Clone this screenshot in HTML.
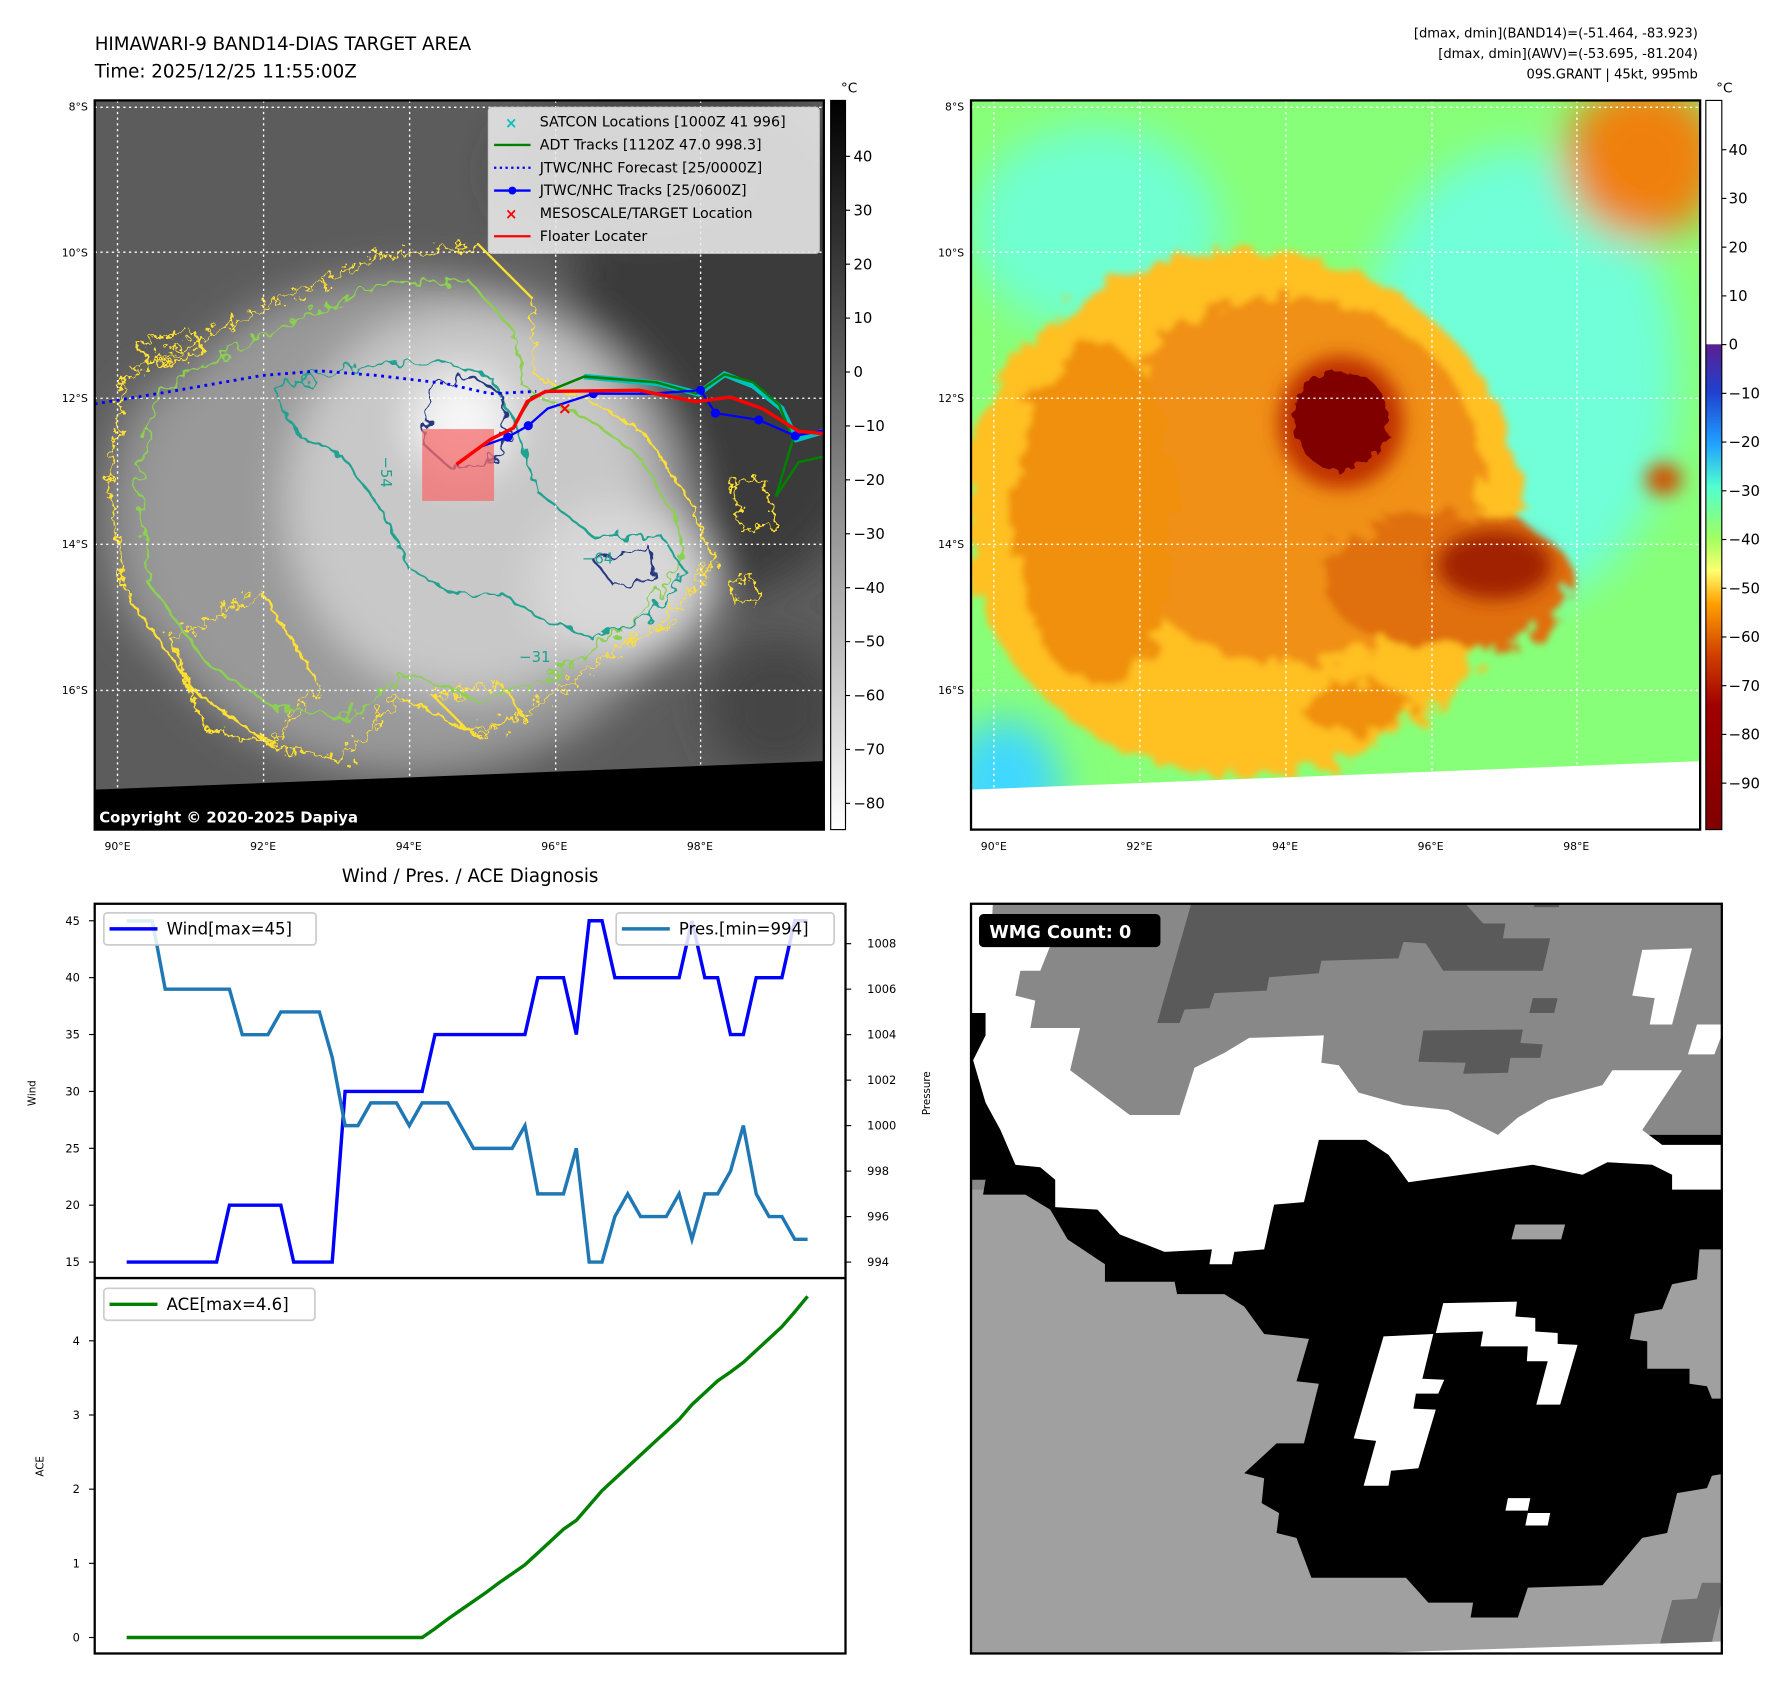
<!DOCTYPE html>
<html><head><meta charset="utf-8">
<style>
html,body{margin:0;padding:0;background:#fff;}
svg{display:block;font-family:"DejaVu Sans","Liberation Sans",sans-serif;}
</style></head>
<body>
<svg id="fig" width="1788" height="1690" viewBox="0 0 1567 1481" preserveAspectRatio="none" xmlns="http://www.w3.org/2000/svg">
<defs>
  <filter id="wig" x="-10%" y="-10%" width="120%" height="120%">
    <feTurbulence type="fractalNoise" baseFrequency="0.09" numOctaves="2" seed="3"/>
    <feDisplacementMap in="SourceGraphic" scale="18"/>
  </filter>
  <filter id="wig2" x="-10%" y="-10%" width="120%" height="120%">
    <feTurbulence type="fractalNoise" baseFrequency="0.12" numOctaves="3" seed="7"/>
    <feDisplacementMap in="SourceGraphic" scale="22"/>
  </filter>
  <filter id="tex" x="-5%" y="-5%" width="110%" height="110%">
    <feTurbulence type="fractalNoise" baseFrequency="0.05" numOctaves="3" seed="11"/>
    <feDisplacementMap in="SourceGraphic" scale="40"/>
    <feGaussianBlur stdDeviation="3"/>
  </filter>
  <filter id="blur" x="-20%" y="-20%" width="140%" height="140%"><feGaussianBlur stdDeviation="18"/></filter>
  <filter id="blur2" x="-20%" y="-20%" width="140%" height="140%"><feGaussianBlur stdDeviation="8"/></filter>
  <clipPath id="clipL"><rect x="83" y="88" width="639" height="639"/></clipPath>
  <clipPath id="clipR"><rect x="851" y="88" width="639" height="639"/></clipPath>
  <clipPath id="clipW"><rect x="851" y="792" width="658" height="657"/></clipPath>
  <linearGradient id="cbL" x1="0" y1="0" x2="0" y2="1">
    <stop offset="0" stop-color="#000"/><stop offset="1" stop-color="#fff"/>
  </linearGradient>
  <linearGradient id="cbR" x1="0" y1="0" x2="0" y2="1">
    <stop offset="0" stop-color="#fff"/><stop offset="0.334" stop-color="#fff"/>
    <stop offset="0.335" stop-color="#5a2090"/><stop offset="0.40" stop-color="#2040d0"/>
    <stop offset="0.47" stop-color="#20a0ff"/><stop offset="0.53" stop-color="#50ffd0"/>
    <stop offset="0.60" stop-color="#a0ff60"/><stop offset="0.645" stop-color="#ffff70"/>
    <stop offset="0.69" stop-color="#ffa000"/><stop offset="0.76" stop-color="#d04000"/>
    <stop offset="0.83" stop-color="#a00000"/><stop offset="1" stop-color="#800000"/>
  </linearGradient>
</defs>

<text x="83" y="44" font-size="16">HIMAWARI-9 BAND14-DIAS TARGET AREA</text>
<text x="83" y="68" font-size="16">Time: 2025/12/25 11:55:00Z</text>
<text x="1488" y="33" font-size="11.5" text-anchor="end">[dmax, dmin](BAND14)=(-51.464, -83.923)</text>
<text x="1488" y="51" font-size="11.5" text-anchor="end">[dmax, dmin](AWV)=(-53.695, -81.204)</text>
<text x="1488" y="69" font-size="11.5" text-anchor="end">09S.GRANT | 45kt, 995mb</text>

<!-- LEFT MAP -->
<g id="leftMap" clip-path="url(#clipL)">
  <rect x="83" y="88" width="639" height="639" fill="#5c5c5c"/>
  <g filter="url(#blur)">
    <ellipse cx="640" cy="300" rx="140" ry="220" fill="#3a3a3a"/>
    <ellipse cx="560" cy="150" rx="120" ry="70" fill="#404040"/>
    <ellipse cx="680" cy="620" rx="60" ry="60" fill="#444"/>
    <ellipse cx="150" cy="450" rx="60" ry="120" fill="#888"/>
    <ellipse cx="360" cy="460" rx="250" ry="220" fill="#999"/>
    <ellipse cx="410" cy="440" rx="160" ry="170" fill="#c8c8c8"/>
    <ellipse cx="545" cy="510" rx="80" ry="70" fill="#d8d8d8"/>
    <ellipse cx="405" cy="370" rx="45" ry="45" fill="#f6f6f6"/>
  </g>
  <g fill="none" stroke-width="2">
    <path filter="url(#wig2)" stroke="#ffe030" d="M110,330 L230,270 L330,225 L420,215 L465,260 L470,330 L525,355 L565,380 L605,440 L625,490 L585,545 L545,565 L520,585 L470,620 L420,645 L350,610 L300,665 L240,655 L170,605 L110,520 L95,420 Z"/>
    <path filter="url(#wig2)" stroke="#ffe030" d="M150,560 L230,520 L280,600 L240,650 L180,640 Z"/>
    <path filter="url(#wig2)" stroke="#ffe030" d="M380,610 L440,600 L460,630 L410,640 Z"/>
    <path filter="url(#wig2)" stroke="#ffe030" d="M120,300 L170,290 L180,310 L130,320 Z"/>
    <path filter="url(#wig2)" stroke="#ffe030" d="M640,420 L670,420 L680,460 L650,465 Z"/>
    <path filter="url(#wig2)" stroke="#ffe030" d="M640,510 L660,505 L665,525 L645,530 Z"/>
    <path filter="url(#wig)" stroke="#8cd050" d="M140,340 L240,290 L330,250 L410,245 L450,290 L460,340 L520,370 L560,400 L590,450 L600,490 L560,540 L520,570 L470,600 L420,615 L360,590 L300,630 L240,620 L180,580 L130,510 L120,420 Z"/>
    <path filter="url(#wig)" stroke="#20a090" d="M240,340 L320,320 L380,315 L430,330 L455,380 L470,430 L520,470 L580,470 L600,500 L570,540 L520,560 L470,540 L440,520 L400,520 L360,500 L330,440 L300,400 L260,380 Z"/>
    <path filter="url(#wig)" stroke="#283880" d="M375,340 L410,330 L440,345 L445,380 L430,405 L395,410 L372,390 Z"/>
    <path filter="url(#wig)" stroke="#283880" d="M520,490 L570,480 L575,505 L540,515 Z"/>
  </g>
  <g fill="#20a090" font-size="13">
    <text x="334" y="400" transform="rotate(90 334 400)">−54</text>
    <text x="510" y="494">−64</text>
    <text x="455" y="580">−31</text>
  </g>
  <g stroke="#fff" stroke-width="1.2" stroke-dasharray="2,3">
    <line x1="103" y1="88" x2="103" y2="727"/><line x1="231" y1="88" x2="231" y2="727"/>
    <line x1="359" y1="88" x2="359" y2="727"/><line x1="487" y1="88" x2="487" y2="727"/>
    <line x1="614" y1="88" x2="614" y2="727"/>
    <line x1="83" y1="94" x2="722" y2="94"/><line x1="83" y1="221" x2="722" y2="221"/>
    <line x1="83" y1="349" x2="722" y2="349"/><line x1="83" y1="477" x2="722" y2="477"/>
    <line x1="83" y1="605" x2="722" y2="605"/>
  </g>
  <rect x="370" y="376" width="63" height="63" fill="rgba(245,110,110,0.75)"/>
  <polyline points="83,354 150,343 230,329 280,325 330,329 390,336 430,345 470,343" fill="none" stroke="#00f" stroke-width="2.5" stroke-dasharray="2.5,4"/>
  <polyline points="512,330 577,336 612,345 635,328 660,338 685,358 698,385 722,378" fill="none" stroke="#00c0c0" stroke-width="5"/>
  <polyline points="452,370 466,348 480,343 512,330 575,335 610,345 635,328 660,335 683,355 695,385 680,435 700,405 722,400" fill="none" stroke="#008000" stroke-width="2.2"/>
  <g>
    <polyline points="420,392 445,383 463,373 480,358 520,345 570,345 614,342 627,362 665,368 697,382 722,377" fill="none" stroke="#00f" stroke-width="2"/>
    <g fill="#00f"><circle cx="445" cy="383" r="4"/><circle cx="463" cy="373" r="4"/><circle cx="520" cy="345" r="4"/><circle cx="614" cy="342" r="4"/><circle cx="627" cy="362" r="4"/><circle cx="665" cy="368" r="4"/><circle cx="697" cy="382" r="4"/></g>
  </g>
  <polyline points="400,407 430,385 450,375 462,352 478,343 560,342 600,350 610,352 640,348 668,358 700,378 722,380" fill="none" stroke="#f00" stroke-width="3"/>
  <text x="495" y="363" fill="#f00" font-size="15" font-weight="bold" text-anchor="middle">×</text>
  <polygon points="83,692 722,667 722,727 83,727" fill="#000"/>
  <text x="87" y="721" fill="#fff" font-size="13" font-weight="bold">Copyright © 2020-2025 Dapiya</text>
  <g>
    <rect x="428" y="94" width="290" height="128" rx="3" fill="rgba(235,235,235,0.88)" stroke="#ccc"/>
    <text x="448" y="112" fill="#00c0c0" font-size="13" font-weight="bold" text-anchor="middle">×</text>
    <line x1="433" y1="127" x2="465" y2="127" stroke="#008000" stroke-width="2"/>
    <line x1="433" y1="147" x2="465" y2="147" stroke="#00f" stroke-width="2" stroke-dasharray="2,3"/>
    <line x1="433" y1="167" x2="465" y2="167" stroke="#00f" stroke-width="2"/><circle cx="449" cy="167" r="3.5" fill="#00f"/>
    <text x="448" y="192" fill="#f00" font-size="13" font-weight="bold" text-anchor="middle">×</text>
    <line x1="433" y1="207" x2="465" y2="207" stroke="#f00" stroke-width="2"/>
    <g font-size="12.5" fill="#000">
      <text x="473" y="111">SATCON Locations [1000Z 41 996]</text>
      <text x="473" y="131">ADT Tracks [1120Z 47.0 998.3]</text>
      <text x="473" y="151">JTWC/NHC Forecast [25/0000Z]</text>
      <text x="473" y="171">JTWC/NHC Tracks [25/0600Z]</text>
      <text x="473" y="191">MESOSCALE/TARGET Location</text>
      <text x="473" y="211">Floater Locater</text>
    </g>
  </g>
</g>
<rect x="83" y="88" width="639" height="639" fill="none" stroke="#000" stroke-width="2"/>
<rect x="728" y="88" width="13" height="639" fill="url(#cbL)" stroke="#000" stroke-width="1"/>
<text x="737" y="81" font-size="12">°C</text>
<g id="cbLticks" font-size="13"></g>

<!-- RIGHT MAP -->
<g clip-path="url(#clipR)">
  <rect x="851" y="88" width="639" height="639" fill="#88ff78"/>
  <g filter="url(#blur)">
    <ellipse cx="1330" cy="330" rx="140" ry="200" fill="#70ffd8"/>
    <ellipse cx="960" cy="200" rx="110" ry="90" fill="#70ffd0"/>
    <ellipse cx="880" cy="690" rx="50" ry="60" fill="#40d8ff"/>
    <ellipse cx="1440" cy="140" rx="70" ry="70" fill="#f08010"/>
  </g>
  <g filter="url(#tex)">
    <ellipse cx="1090" cy="450" rx="245" ry="230" fill="#ffc020"/>
    <ellipse cx="1130" cy="420" rx="170" ry="160" fill="#f09018"/>
    <ellipse cx="1270" cy="510" rx="110" ry="60" fill="#e07010"/>
    <ellipse cx="960" cy="450" rx="70" ry="150" fill="#f09010"/>
    <ellipse cx="1190" cy="620" rx="50" ry="20" fill="#f09010"/>
  </g>
  <g filter="url(#blur2)">
    <ellipse cx="1175" cy="370" rx="55" ry="58" fill="#c03000"/>
    <ellipse cx="1310" cy="495" rx="50" ry="30" fill="#a02000"/>
    <ellipse cx="1458" cy="420" rx="16" ry="14" fill="#d05000"/>
  </g>
  <ellipse cx="1175" cy="368" rx="42" ry="44" fill="#800000" filter="url(#wig)"/>
  <g stroke="#fff" stroke-width="1.2" stroke-dasharray="2,3">
    <line x1="871" y1="88" x2="871" y2="727"/><line x1="999" y1="88" x2="999" y2="727"/>
    <line x1="1127" y1="88" x2="1127" y2="727"/><line x1="1255" y1="88" x2="1255" y2="727"/>
    <line x1="1382" y1="88" x2="1382" y2="727"/>
    <line x1="851" y1="94" x2="1490" y2="94"/><line x1="851" y1="221" x2="1490" y2="221"/>
    <line x1="851" y1="349" x2="1490" y2="349"/><line x1="851" y1="477" x2="1490" y2="477"/>
    <line x1="851" y1="605" x2="1490" y2="605"/>
  </g>
  <polygon points="851,692 1490,667 1490,727 851,727" fill="#fff"/>
</g>
<rect x="851" y="88" width="639" height="639" fill="none" stroke="#000" stroke-width="2"/>
<rect x="1495" y="88" width="14" height="639" fill="url(#cbR)" stroke="#000" stroke-width="1"/>
<text x="1504" y="81" font-size="12">°C</text>
<g id="cbRticks" font-size="13"></g>

<g id="mapTicks" font-size="9.5"></g>

<!-- BOTTOM LEFT CHARTS -->
<text x="412" y="773" font-size="16" text-anchor="middle">Wind / Pres. / ACE Diagnosis</text>
<g id="windChart"></g>
<g id="aceChart"></g>
<rect x="83" y="792" width="658" height="657" fill="none" stroke="#000" stroke-width="2"/>
<line x1="83" y1="1120" x2="741" y2="1120" stroke="#000" stroke-width="2"/>
<text transform="translate(31,958) rotate(-90)" font-size="9" text-anchor="middle">Wind</text>
<text transform="translate(815,958) rotate(-90)" font-size="9" text-anchor="middle">Pressure</text>
<text transform="translate(38,1285) rotate(-90)" font-size="9" text-anchor="middle">ACE</text>

<!-- BOTTOM RIGHT WMG -->
<g>
  <g clip-path="url(#clipW)">
  <rect x="851" y="792" width="658" height="657" fill="#a0a0a0"/>
  <g transform="translate(846.3,785.3) scale(0.436)">
    <polygon fill="#888" points="10,10 1528,10 1528,590 10,590"/>
    <polygon fill="#5a5a5a" points="455,10 1000,10 1040,55 1085,55 1080,85 1175,85 1160,150 960,150 925,95 880,92 870,125 715,130 710,155 610,163 605,190 500,195 490,225 440,228 430,255 385,255"/>
    <polygon fill="#5a5a5a" points="1145,10 1195,10 1192,22 1142,22"/>
    <polygon fill="#5a5a5a" points="1140,205 1190,205 1183,235 1133,235"/>
    <polygon fill="#5a5a5a" points="920,270 1120,268 1115,295 1160,298 1155,325 1095,325 1090,355 1000,357 1005,335 910,333"/>
    <polygon fill="#000" points="10,110 60,110 60,450 300,650 700,480 1528,480 1528,1160 1500,1165 1490,1190 1430,1200 1410,1280 1360,1290 1280,1385 1130,1390 1110,1450 1015,1450 1020,1420 930,1420 885,1370 695,1370 665,1290 625,1280 630,1240 595,1220 600,1170 560,1160 625,1100 680,1100 710,980 665,975 690,890 600,880 560,825 520,800 425,800 420,775 280,775 280,740 205,690 170,630 120,600 35,600 40,570 10,570"/>
    <polygon fill="#fff" points="10,10 55,10 50,100 170,100 150,150 110,150 100,200 140,210 130,265 230,265 210,350 250,380 290,410 330,440 430,440 460,345 520,315 570,285 720,280 715,335 750,340 790,395 880,420 970,430 1070,480 1110,445 1170,410 1280,380 1300,350 1440,350 1400,410 1360,470 1400,500 1528,500 1528,590 1420,590 1420,560 1380,540 1290,535 1240,560 1140,540 890,575 850,520 805,490 710,490 680,615 620,620 600,710 540,715 535,740 490,740 495,710 400,715 310,680 265,630 180,625 180,570 150,545 100,540 70,470 40,415 15,330 40,280 40,235 10,235"/>
    <polygon fill="#a0a0a0" points="1475,710 1528,710 1528,1010 1500,1010 1490,985 1455,980 1455,950 1370,950 1370,895 1335,890 1345,840 1400,830 1420,780 1470,770"/>
    <polygon fill="#a0a0a0" points="1105,660 1205,660 1197,690 1097,690"/>
    <polygon fill="#fff" points="1360,108 1460,105 1420,258 1375,258 1385,205 1340,200"/>
    <polygon fill="#fff" points="1470,258 1528,258 1505,318 1452,318"/>
    <polygon fill="#fff" points="840,885 940,880 918,970 962,972 950,1000 905,1000 900,1030 945,1032 910,1150 855,1155 850,1185 800,1185 825,1095 780,1090"/>
    <polygon fill="#fff" points="960,818 1108,815 1105,845 1145,848 1145,875 1190,878 1190,900 1230,902 1195,1022 1147,1022 1170,935 1128,935 1130,905 1035,905 1040,875 945,878"/>
    <polygon fill="#fff" points="1090,1210 1135,1210 1130,1235 1085,1235"/>
    <polygon fill="#fff" points="1130,1240 1175,1240 1170,1265 1125,1265"/>
    <polygon fill="#707070" points="1480,1380 1528,1380 1500,1500 1395,1505 1420,1415 1470,1412"/>
    <polygon fill="#fff" points="545,1530 1528,1498 1528,1530"/>
  </g>
  </g>
  <rect x="851" y="792" width="658" height="657" fill="none" stroke="#000" stroke-width="2"/>
  <rect x="858" y="801" width="159" height="29" rx="4" fill="#000"/>
  <text x="867" y="822" fill="#fff" font-size="15.5" font-weight="bold">WMG Count: 0</text>
</g>

<script>
const windValues = [15,15,15,15,15,15,15,15,20,20,20,20,20,15,15,15,15,30,30,30,30,30,30,30,35,35,35,35,35,35,35,35,40,40,40,35,45,45,40,40,40,40,40,40,45,40,40,35,35,40,40,40,45,45];
const presValues = [1009,1009,1009,1006,1006,1006,1006,1006,1006,1004,1004,1004,1005,1005,1005,1005,1003,1000,1000,1001,1001,1001,1000,1001,1001,1001,1000,999,999,999,999,1000,997,997,997,999,994,994,996,997,996,996,996,997,995,997,997,998,1000,997,996,996,995,995];
const aceValues = [0,0,0,0,0,0,0,0,0,0,0,0,0,0,0,0,0,0,0,0,0,0,0,0,0.12,0.25,0.37,0.49,0.61,0.74,0.86,0.98,1.14,1.30,1.46,1.58,1.78,1.98,2.14,2.30,2.46,2.62,2.78,2.94,3.14,3.30,3.46,3.58,3.71,3.87,4.03,4.19,4.39,4.60];
const windTicks = [15,20,25,30,35,40,45];
const presTicks = [994,996,998,1000,1002,1004,1006,1008];
const aceTicks = [0,1,2,3,4];
const irCbTicks = [40,30,20,10,0,-10,-20,-30,-40,-50,-60,-70,-80];
const awvCbTicks = [40,30,20,10,0,-10,-20,-30,-40,-50,-60,-70,-80,-90];
const lonTicks = [90,92,94,96,98];
const latTicks = [8,10,12,14,16];

const NS = "http://www.w3.org/2000/svg";
function mk(tag, attrs, parent){const e=document.createElementNS(NS,tag);for(const k in attrs)e.setAttribute(k,attrs[k]);parent.appendChild(e);return e;}

const xIdx = i => 111 + i*11.26;
const yWind = v => 1106 - (v-15)*9.97;
const yPres = v => 1106 - (v-994)*19.93;
const yAce = v => 1435 - v*65;
const yIr = v => 137 + (40-v)*4.725;
const yAwv = v => 302 + (0-v)*4.27;
const xLon = l => 103 + (l-90)*63.8;
const yLat = l => 94 + (l-8)*63.875;

const wc = document.getElementById('windChart');
const ac = document.getElementById('aceChart');

windTicks.forEach(v=>{
  const y=yWind(v);
  const t=mk('line',{x1:78,y1:y,x2:83,y2:y,stroke:'#000','stroke-width':1},wc);
  
  
  const l=mk('text',{x:70,y:y+3.5,'font-size':10,'text-anchor':'end'},wc);
  l.textContent=v;
  
  
});
presTicks.forEach(v=>{
  const y=yPres(v);
  const t=mk('line',{x1:741,y1:y,x2:746,y2:y,stroke:'#000','stroke-width':1},wc);
  
  
  const l=mk('text',{x:760,y:y+3.5,'font-size':10},wc);
  l.textContent=v;
  
  
});
aceTicks.forEach(v=>{
  const y=yAce(v);
  const t=mk('line',{x1:78,y1:y,x2:83,y2:y,stroke:'#000','stroke-width':1},ac);
  
  
  const l=mk('text',{x:70,y:y+3.5,'font-size':10,'text-anchor':'end'},ac);
  l.textContent=v;
  
  
});

const windLine = mk('polyline',{points:windValues.map((v,i)=>xIdx(i)+','+yWind(v)).join(' '),fill:'none',stroke:'#0000ff','stroke-width':3},wc);


const presLine = mk('polyline',{points:presValues.map((v,i)=>xIdx(i)+','+yPres(v)).join(' '),fill:'none',stroke:'#1f77b4','stroke-width':3},wc);


const aceLine = mk('polyline',{points:aceValues.map((v,i)=>xIdx(i)+','+yAce(v)).join(' '),fill:'none',stroke:'#008000','stroke-width':3},ac);



function legend(parent,x,y,w,color,label,name){
  const g=mk('g',{},parent);
  
  
  mk('rect',{x:x,y:y,width:w,height:28,rx:3,fill:'rgba(255,255,255,0.85)',stroke:'#ccc','stroke-width':1.5},g);
  mk('line',{x1:x+5,y1:y+14,x2:x+47,y2:y+14,stroke:color,'stroke-width':3},g);
  const t=mk('text',{x:x+55,y:y+19,'font-size':14.5},g);
  t.textContent=label;
}
legend(wc,91,800,186,'#0000ff','Wind[max=45]','wind-legend');
legend(wc,540,800,191,'#1f77b4','Pres.[min=994]','pressure-legend');
legend(ac,91,1129,185,'#008000','ACE[max=4.6]','ace-legend');

const cbL=document.getElementById('cbLticks');
irCbTicks.forEach(v=>{
  const y=yIr(v);
  mk('line',{x1:741,y1:y,x2:745,y2:y,stroke:'#000'},cbL);
  const t=mk('text',{x:748,y:y+4.5},cbL);
  t.textContent=(v<0?'\u2212'+(-v):v);
  
  
});
const cbR=document.getElementById('cbRticks');
awvCbTicks.forEach(v=>{
  const y=yAwv(v);
  mk('line',{x1:1509,y1:y,x2:1513,y2:y,stroke:'#000'},cbR);
  const t=mk('text',{x:1515,y:y+4.5},cbR);
  t.textContent=(v<0?'\u2212'+(-v):v);
  
  
});

const mt=document.getElementById('mapTicks');
[0,768].forEach(off=>{
  lonTicks.forEach(l=>{
    const t=mk('text',{x:xLon(l)+off,y:745,'text-anchor':'middle'},mt);
    t.textContent=l+'°E';
    
    
  });
  latTicks.forEach(l=>{
    const t=mk('text',{x:77+off,y:yLat(l)+3,'text-anchor':'end'},mt);
    t.textContent=l+'°S';
    
    
  });
});
</script>
</svg>
</body></html>
